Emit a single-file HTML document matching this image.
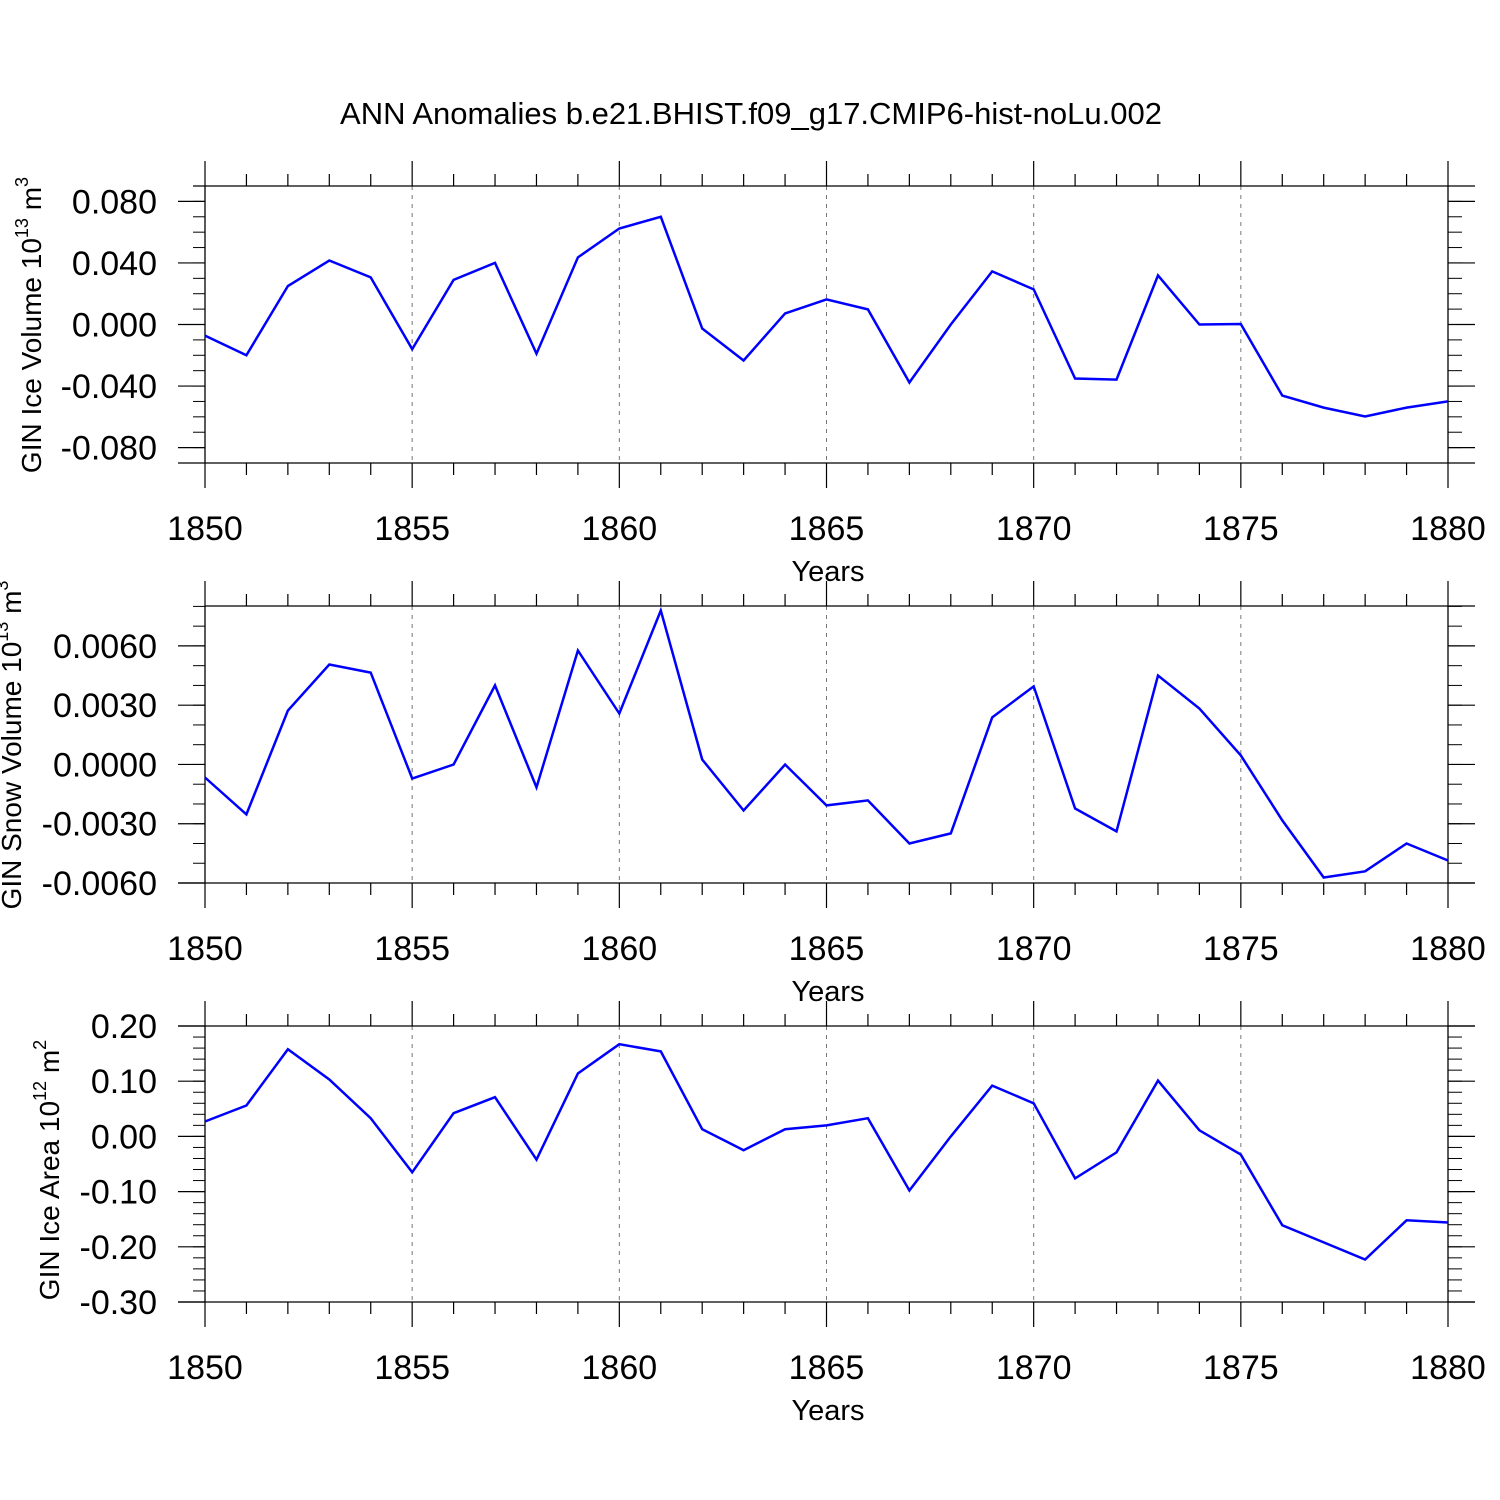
<!DOCTYPE html>
<html><head><meta charset="utf-8"><style>
html,body{margin:0;padding:0;background:#fff;}
svg{display:block;font-family:"Liberation Sans",Arial,sans-serif;}
</style></head><body>
<svg id="chart" width="1500" height="1500" viewBox="0 0 1500 1500">
<text x="751" y="124" text-anchor="middle" font-size="31">ANN Anomalies b.e21.BHIST.f09_g17.CMIP6-hist-noLu.002</text>
</svg>
<script>
const years = [1850,1851,1852,1853,1854,1855,1856,1857,1858,1859,1860,1861,1862,1863,1864,1865,1866,1867,1868,1869,1870,1871,1872,1873,1874,1875,1876,1877,1878,1879,1880];
const iceVolume = [-0.0072,-0.020,0.025,0.0416,0.0306,-0.016,0.029,0.040,-0.019,0.0436,0.0624,0.070,-0.0026,-0.0234,0.0072,0.0163,0.0098,-0.0377,0.0,0.0345,0.0228,-0.0351,-0.0358,0.0319,0.0,0.0003,-0.0462,-0.054,-0.0598,-0.054,-0.050];
const snowVolume = [-0.00066,-0.00253,0.00273,0.00506,0.00465,-0.00071,0.0,0.0040,-0.00116,0.00577,0.00258,0.00779,0.00025,-0.00233,0.0,-0.00207,-0.00182,-0.0040,-0.00349,0.00238,0.00395,-0.00223,-0.00339,0.0045,0.00283,0.00046,-0.00283,-0.00572,-0.00541,-0.0040,-0.00486];
const iceArea = [0.027,0.056,0.158,0.103,0.033,-0.065,0.042,0.071,-0.042,0.114,0.167,0.154,0.013,-0.025,0.013,0.020,0.033,-0.098,0.0,0.092,0.060,-0.076,-0.029,0.101,0.011,-0.033,-0.161,-0.192,-0.223,-0.152,-0.156];
const xTickLabels = ["1850","1855","1860","1865","1870","1875","1880"];
const iceVolumeTicks = ["0.080","0.040","0.000","-0.040","-0.080"];
const snowVolumeTicks = ["0.0060","0.0030","0.0000","-0.0030","-0.0060"];
const iceAreaTicks = ["0.20","0.10","0.00","-0.10","-0.20","-0.30"];

const NS="http://www.w3.org/2000/svg";
const svg=document.getElementById('chart');
function mk(tag,attrs,parent){const e=document.createElementNS(NS,tag);for(const k in attrs)e.setAttribute(k,attrs[k]);(parent||svg).appendChild(e);return e;}
const X0=205,X1=1448;
function xs(yr){return X0+(yr-1850)/(1880-1850)*(X1-X0);}

function panel(cfg){
  const g=mk('g',{});
  
  
  const ys=v=>cfg.top+(cfg.ymax-v)/(cfg.ymax-cfg.ymin)*(cfg.bot-cfg.top);
  for(let yr=1855;yr<=1875;yr+=5){
    const l=mk('line',{x1:xs(yr),x2:xs(yr),y1:cfg.top,y2:cfg.bot,stroke:'#777','stroke-width':1,'stroke-dasharray':'4,5'},g);
    
    
  }
  mk('line',{x1:cfg.frameL,x2:1475,y1:cfg.top,y2:cfg.top,stroke:'#000','stroke-width':1.3},g);
  mk('line',{x1:178,x2:1475,y1:cfg.bot,y2:cfg.bot,stroke:'#000','stroke-width':1.3},g);
  for(let yr=1850;yr<=1880;yr++){
    const major=(yr%5===0), len=major?25:12;
    mk('line',{x1:xs(yr),x2:xs(yr),y1:cfg.top-len,y2:cfg.top,stroke:'#000','stroke-width':1.2},g);
    mk('line',{x1:xs(yr),x2:xs(yr),y1:cfg.bot,y2:cfg.bot+len,stroke:'#000','stroke-width':1.2},g);
  }
  mk('line',{x1:X0,x2:X0,y1:cfg.top,y2:cfg.bot,stroke:'#000','stroke-width':1.3},g);
  mk('line',{x1:X1,x2:X1,y1:cfg.top,y2:cfg.bot,stroke:'#000','stroke-width':1.3},g);
  xTickLabels.forEach(t=>{
    const tx=mk('text',{x:xs(+t),y:cfg.bot+77,'text-anchor':'middle','font-size':34},g);
    
    
    tx.textContent=t;
  });
  const xl=mk('text',{x:828,y:cfg.bot+118,'text-anchor':'middle','font-size':29},g);
  
  
  xl.textContent='Years';
  const nMin=Math.round((cfg.ymax-cfg.ymin)/cfg.minor);
  for(let i=0;i<=nMin+1;i++){
    const v=cfg.minorStart+i*cfg.minor;
    if(v>cfg.ymax+1e-9||v<cfg.ymin-1e-9)continue;
    mk('line',{x1:193,x2:X0,y1:ys(v),y2:ys(v),stroke:'#000','stroke-width':1},g);
    mk('line',{x1:X1,x2:1462,y1:ys(v),y2:ys(v),stroke:'#000','stroke-width':1},g);
  }
  cfg.ticks.forEach(t=>{
    const v=parseFloat(t),y=ys(v);
    mk('line',{x1:178,x2:X0,y1:y,y2:y,stroke:'#000','stroke-width':1.2},g);
    mk('line',{x1:X1,x2:1475,y1:y,y2:y,stroke:'#000','stroke-width':1.2},g);
    const tx=mk('text',{x:157,y:y+12,'text-anchor':'end','font-size':34},g);
    
    
    tx.textContent=t;
  });
  const yl=mk('text',{transform:`translate(${cfg.lx},${cfg.ly}) rotate(-90)`,'text-anchor':'middle','font-size':28},g);
  
  
  yl.innerHTML=cfg.label;
  const pts=cfg.data.map((v,i)=>xs(years[i]).toFixed(1)+','+ys(v).toFixed(1)).join(' ');
  const pl=mk('polyline',{points:pts,fill:'none',stroke:'#0000ff','stroke-width':2.5,'stroke-linejoin':'miter'},g);
  
  
}
panel({name:'ice-volume-panel',top:186,bot:463,ymax:0.09,ymin:-0.09,minor:0.01,minorStart:-0.09,frameL:193,ticks:iceVolumeTicks,data:iceVolume,lx:41,ly:325,
  label:'GIN Ice Volume 10<tspan dy="-13" font-size="18">13</tspan><tspan dy="13"> m</tspan><tspan dy="-13" font-size="18">3</tspan>'});
panel({name:'snow-volume-panel',top:606,bot:883,ymax:0.00802,ymin:-0.006,minor:0.001,minorStart:-0.006,frameL:205,ticks:snowVolumeTicks,data:snowVolume,lx:21,ly:745,
  label:'GIN Snow Volume 10<tspan dy="-13" font-size="18">13</tspan><tspan dy="13"> m</tspan><tspan dy="-13" font-size="18">3</tspan>'});
panel({name:'ice-area-panel',top:1026,bot:1302,ymax:0.20,ymin:-0.30,minor:0.02,minorStart:-0.30,frameL:178,ticks:iceAreaTicks,data:iceArea,lx:59,ly:1170,
  label:'GIN Ice Area 10<tspan dy="-13" font-size="18">12</tspan><tspan dy="13"> m</tspan><tspan dy="-13" font-size="18">2</tspan>'});
</script>
</body></html>
